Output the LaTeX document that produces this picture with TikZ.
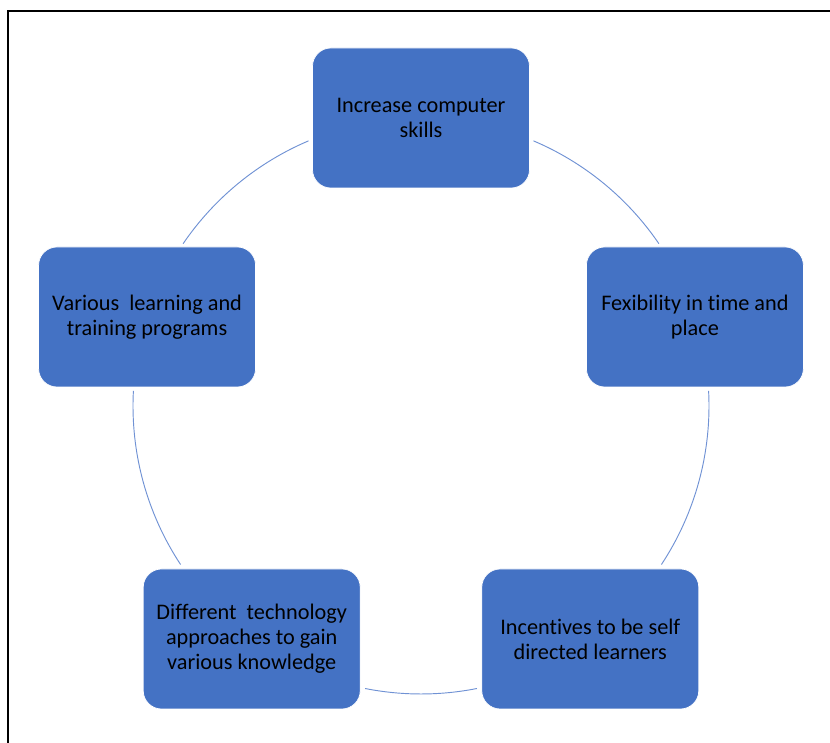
\documentclass[tikz,border=0pt]{standalone}
\usepackage{fontspec}
\setmainfont[Ligatures=NoCommon]{Carlito}
\definecolor{boxblue}{RGB}{68,114,196}
\definecolor{ringblue}{RGB}{112,146,212}
\begin{document}
\begin{tikzpicture}[
	box/.style={fill=boxblue, draw=white, line width=0.6pt, rounded corners=0.55cm,
		minimum width=6.51cm, minimum height=4.2cm, align=center, text=black,
		font=\fontsize{19}{21.5}\selectfont},
	ring/.style={draw=ringblue, line width=0.8pt},
	frame/.style={draw=black, line width=1.2pt}
	]
	\useasboundingbox (0,0) rectangle (24.9,22.29);
	\def\R{8.64}
	\coordinate (hub) at (12.63,10.11);
	% outer frame (cut at the right and the bottom)
	\draw[frame] (0.24,0) -- (0.24,21.96) -- (24.9,21.96);
	% the ring between the boxes
	\foreach \a/\b in {67/34.3, 3/-33.4, -78.8/-101.2, -146.6/-183, 145.7/113}
		\draw[ring] ([shift={(\a:\R)}]hub) arc[start angle=\a, end angle=\b, radius=\R];
	% the five boxes
	\node[box] (skills) at ([shift={(90:\R)}]hub) {Increase computer\\skills};
	\node[box] (flex) at ([shift={(18:\R)}]hub) {Fexibility in time and\\place};
	\node[box] (selfdir) at ([shift={(-54:\R)}]hub) {Incentives to be self\\directed learners};
	\node[box] (techno) at ([shift={(-126:\R)}]hub) {Different~ technology\\approaches to gain\\various knowledge};
	\node[box] (programs) at ([shift={(162:\R)}]hub) {Various~ learning and\\training programs};
\end{tikzpicture}
\end{document}
